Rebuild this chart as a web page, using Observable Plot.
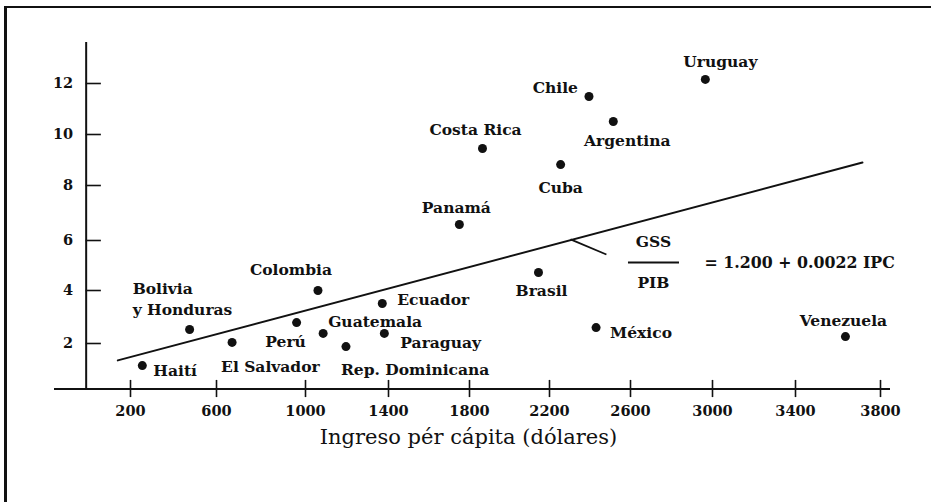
<!DOCTYPE html>
<html>
<head>
<meta charset="utf-8">
<script src="https://cdn.jsdelivr.net/npm/d3@7"></script>
<script src="https://cdn.jsdelivr.net/npm/@observablehq/plot@0.6"></script>
<style>
  html, body { margin: 0; padding: 0; background: #fff; }
  #wrap { position: relative; width: 931px; height: 502px; overflow: hidden; }
  #frame { position: absolute; left: 4px; top: 6px; width: 940px; height: 520px;
           border-left: 3px solid #111; border-top: 2px solid #111; pointer-events: none; }
</style>
</head>
<body>
<div id="wrap"><div id="frame"></div></div>
<script>
// ---- data ----
const countries = ["Haití", "Bolivia\ny Honduras", "El Salvador", "Perú", "Colombia", "Guatemala",
  "Rep. Dominicana", "Ecuador", "Paraguay", "Panamá", "Costa Rica", "Brasil", "México",
  "Cuba", "Chile", "Argentina", "Uruguay", "Venezuela"];
const ipc = [255, 475, 670, 960, 1060, 1085, 1195, 1370, 1380, 1750, 1865, 2145, 2430,
  2255, 2395, 2515, 2965, 3635];
const gssPib = [1.15, 2.53, 2.04, 2.79, 4.0, 2.38, 1.88, 3.51, 2.38, 6.58, 9.45, 4.72, 2.6,
  8.82, 11.49, 10.51, 12.16, 2.26];

const xTicks = [200, 600, 1000, 1400, 1800, 2200, 2600, 3000, 3400, 3800];
const yTicks = [2, 4, 6, 8, 10, 12];

// regression line end points as drawn
const fitX = [140, 3715];
const fitY = [1.35, 8.9];

const xTitle = "Ingreso pér cápita (dólares)";
const eqNum = "GSS";
const eqDen = "PIB";
const eqRhs = "= 1.200 + 0.0022 IPC";

// ---- layout (hand-drawn axis: tick pixel positions) ----
const xDomain = [-160, ...xTicks, 3850];
const xRange = [54, 130, 216, 305, 388, 469, 549, 630, 712, 795, 880, 890];
const yDomain = [0.25, ...yTicks, 13.6];
const yRange = [388.5, 343, 290, 240, 185, 134, 83, 42];

const labelLayout = {
  "Haití": {a: "start", dx: 11, dy: 3},
  "Bolivia\ny Honduras": {a: "start", dx: -57, dy: -32},
  "El Salvador": {a: "start", dx: -11, dy: 23},
  "Perú": {a: "middle", dx: -11, dy: 17},
  "Colombia": {a: "middle", dx: -27, dy: -22},
  "Guatemala": {a: "start", dx: 5, dy: -13},
  "Rep. Dominicana": {a: "start", dx: -5, dy: 21},
  "Ecuador": {a: "start", dx: 15, dy: -5},
  "Paraguay": {a: "start", dx: 16, dy: 8},
  "Panamá": {a: "middle", dx: -3, dy: -19},
  "Costa Rica": {a: "middle", dx: -7, dy: -20},
  "Brasil": {a: "middle", dx: 3, dy: 17},
  "México": {a: "start", dx: 14, dy: 3},
  "Cuba": {a: "middle", dx: 0, dy: 21},
  "Chile": {a: "end", dx: -11, dy: -10},
  "Argentina": {a: "middle", dx: 14, dy: 18},
  "Uruguay": {a: "middle", dx: 15, dy: -19},
  "Venezuela": {a: "middle", dx: -2, dy: -18}
};

const points = countries.map((c, i) => ({name: c, x: ipc[i], y: gssPib[i]}));
const fit = fitX.map((x, i) => ({x, y: fitY[i]}));

const yAxisX = -10;     // vertical axis position (x units)
const xAxisY = 0.25;    // horizontal axis position (y units)

const labelMarks = ["start", "middle", "end"].flatMap(a =>
  points.filter(p => labelLayout[p.name].a === a).map(p =>
    Plot.text([p], {x: "x", y: "y", text: "name", textAnchor: a,
      dx: labelLayout[p.name].dx, dy: labelLayout[p.name].dy,
      lineHeight: 1.4, fontSize: 15.5, fill: "#111"})));

const chart = Plot.plot({
  width: 931,
  height: 502,
  marginLeft: 54, marginRight: 41, marginTop: 42, marginBottom: 113.5,
  x: {type: "linear", domain: xDomain, range: xRange, axis: null},
  y: {type: "linear", domain: yDomain, range: yRange, axis: null},
  style: {fontFamily: "'DejaVu Serif', serif", fontWeight: "bold", background: "transparent", color: "#111"},
  marks: [
    // axes
    Plot.ruleY([xAxisY], {x1: -160, x2: 3850, stroke: "#111", strokeWidth: 2}),
    Plot.ruleX([yAxisX], {y1: xAxisY, y2: 13.6, stroke: "#111", strokeWidth: 2}),
    Plot.ruleX(xTicks, {x: d => d, y1: xAxisY - 0.33, y2: xAxisY + 0.33, stroke: "#111", strokeWidth: 1.6}),
    Plot.ruleY(yTicks, {y: d => d, x1: yAxisX, x2: 62, stroke: "#111", strokeWidth: 1.6}),
    Plot.text(xTicks, {x: d => d, y: xAxisY, dy: 22, text: d => String(d), fontSize: 14.5, fill: "#111"}),
    Plot.text(yTicks, {x: yAxisX, y: d => d, dx: -13, text: d => String(d), textAnchor: "end", fontSize: 14.5, fill: "#111"}),
    Plot.text([xTitle], {x: 1795, y: xAxisY, dy: 48, text: d => d, fontSize: 21, fontWeight: "normal", fill: "#111"}),
    // regression line
    Plot.line(fit, {x: "x", y: "y", stroke: "#111", strokeWidth: 2}),
    // pointer and equation
    Plot.link([0], {x1: 2304, y1: 6.04, x2: 2481, y2: 5.44, stroke: "#111", strokeWidth: 1.8}),
    Plot.ruleY([5.12], {x1: 2590, x2: 2839, stroke: "#111", strokeWidth: 1.8}),
    Plot.text([eqNum], {x: 2712, y: 5.12, dy: -20, text: d => d, fontSize: 15.5, fill: "#111"}),
    Plot.text([eqDen], {x: 2712, y: 5.12, dy: 21, text: d => d, fontSize: 15.5, fill: "#111"}),
    Plot.text([eqRhs], {x: 2961, y: 5.12, text: d => d, textAnchor: "start", fontSize: 15.8, fill: "#111"}),
    // points
    Plot.dot(points, {x: "x", y: "y", r: 4.5, fill: "#111", stroke: "none"}),
    ...labelMarks
  ]
});
document.getElementById("wrap").prepend(chart);
</script>
</body>
</html>
